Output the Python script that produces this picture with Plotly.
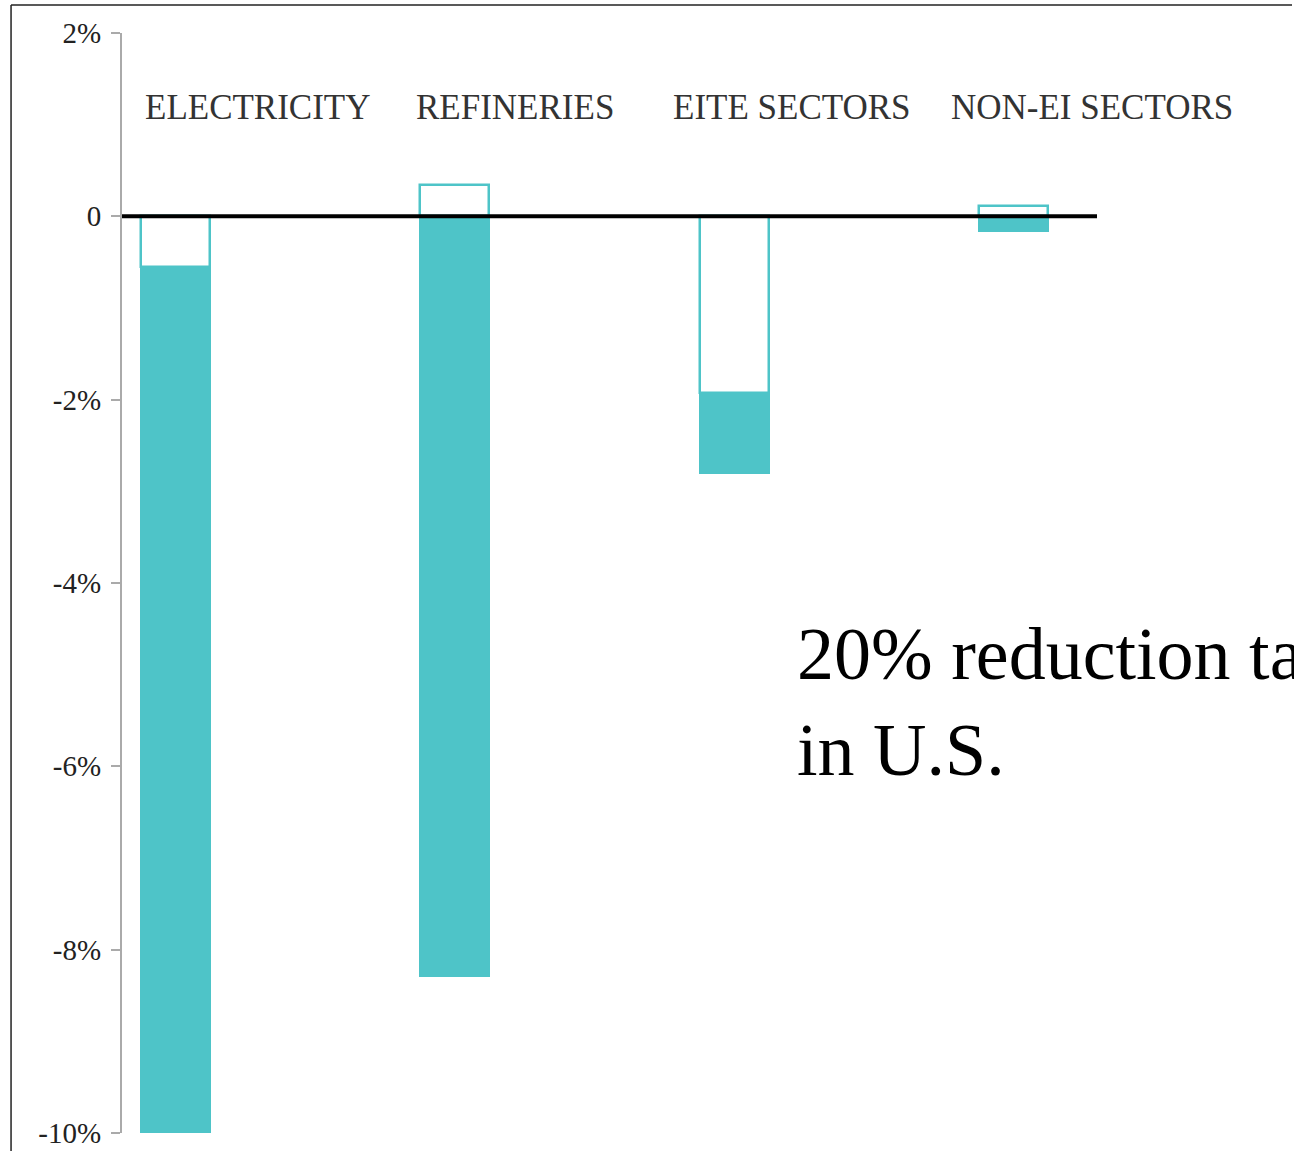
import plotly.graph_objects as go

categories = ["ELECTRICITY", "REFINERIES", "EITE SECTORS", "NON-EI SECTORS"]
filled_values = [-10.0, -8.3, -2.81, -0.17]
outline_values = [-0.55, 0.34, -1.93, 0.11]
tick_values = [2, 0, -2, -4, -6, -8, -10]
tick_labels = ["2%", "0", "-2%", "-4%", "-6%", "-8%", "-10%"]
note_text = "20% reduction target<br>in U.S."

TEAL = "#4EC4C8"
SERIF = "Liberation Serif, Times New Roman, serif"

fig = go.Figure()
fig.add_trace(go.Bar(
    x=categories, y=filled_values, width=0.254,
    marker=dict(color=TEAL, line=dict(width=0)),
    showlegend=False, hoverinfo="skip",
))
fig.add_trace(go.Bar(
    x=categories, y=outline_values, width=0.247,
    marker=dict(color="white", line=dict(color=TEAL, width=2.5)),
    showlegend=False, hoverinfo="skip",
))

# zero line
fig.add_shape(type="line", xref="paper", yref="y", x0=0, x1=1, y0=0, y1=0,
              line=dict(color="black", width=4))
# slide frame fragments
fig.add_shape(type="line", xref="paper", yref="paper", x0=-0.1138, x1=1.2, y0=1.0255, y1=1.0255,
              line=dict(color="#222", width=1.5))
fig.add_shape(type="line", xref="paper", yref="paper", x0=-0.1138, x1=-0.1138, y0=1.0255, y1=-0.03,
              line=dict(color="#222", width=1.5))

label_x = [0.1395, 0.4035, 0.687, 0.995]
for cat, lx in zip(categories, label_x):
    fig.add_annotation(text=cat, xref="paper", yref="paper", x=lx, y=0.9327,
                       showarrow=False, xanchor="center", yanchor="middle",
                       font=dict(family=SERIF, size=35, color="#333333"))

fig.add_annotation(text=note_text, xref="paper", yref="paper", x=0.6903, y=0.475,
                   showarrow=False, xanchor="left", yanchor="top", align="left",
                   font=dict(family=SERIF, size=74, color="black"))

fig.update_layout(
    width=1294, height=1151,
    margin=dict(l=122, r=197, t=33, b=18, autoexpand=False),
    paper_bgcolor="white", plot_bgcolor="white",
    barmode="overlay",
    bargap=0,
    xaxis=dict(type="category", range=[-0.19, 3.297], showticklabels=False,
               showgrid=False, zeroline=False, showline=False, ticks="", automargin=False),
    yaxis=dict(range=[-10, 2], tickvals=tick_values, ticktext=tick_labels, automargin=False,
               showgrid=False, zeroline=False, showline=True, linecolor="#aaaaaa",
               linewidth=2, ticks="outside", ticklen=9, tickcolor="#aaaaaa", tickwidth=2,
               tickfont=dict(family=SERIF, size=29, color="#222222"), ticklabelstandoff=4),
)

fig.write_html("out.html")
